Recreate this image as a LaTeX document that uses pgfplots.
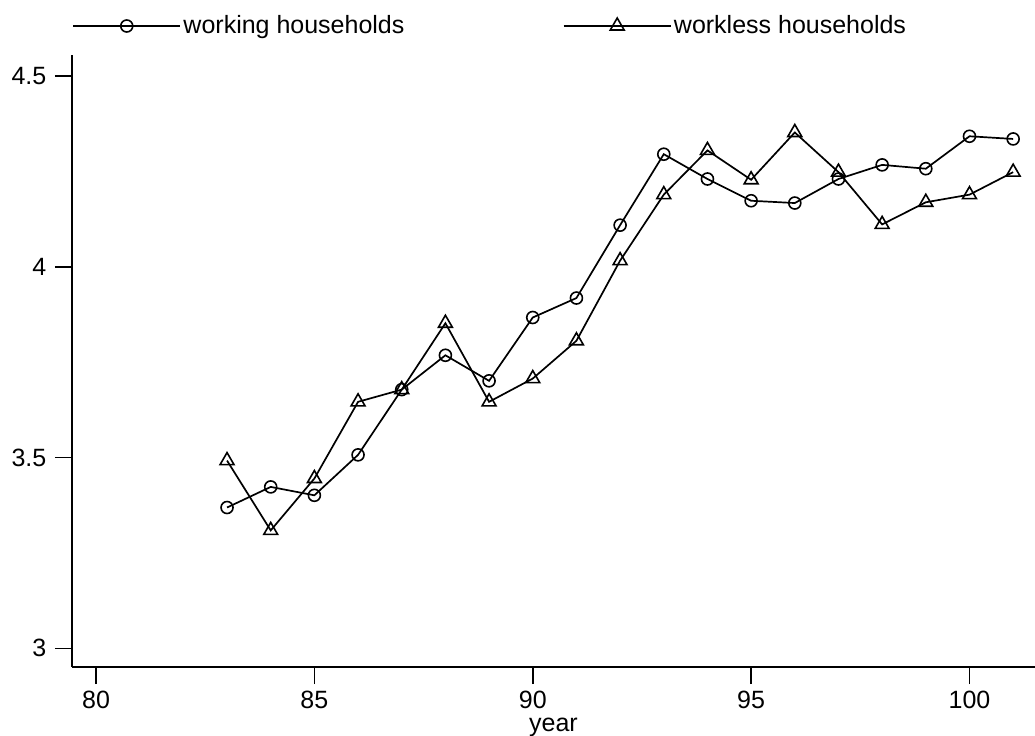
\documentclass[border=0pt]{standalone}
\usepackage{pgfplots}
\pgfplotsset{compat=1.18}
\usepackage{fontspec}
\setmainfont{Liberation Sans}

\pgfplotstableread{
year work workless
83 3.369 3.492
84 3.423 3.309
85 3.401 3.445
86 3.507 3.646
87 3.678 3.678
88 3.768 3.852
89 3.701 3.646
90 3.867 3.707
91 3.918 3.806
92 4.109 4.016
93 4.295 4.189
94 4.230 4.305
95 4.173 4.228
96 4.167 4.352
97 4.230 4.248
98 4.267 4.111
99 4.257 4.169
100 4.342 4.189
101 4.335 4.248
}\data

\begin{document}
\fontsize{12.5}{15}\selectfont
\begin{tikzpicture}
\begin{axis}[name=ax, scale only axis, width=481.5pt, height=306pt,
  xmin=79.45, xmax=101.5, ymin=2.951, ymax=4.555,
  axis lines*=left, clip=false,
  axis line style={line width=0.8pt, black},
  tick align=outside, major tick length=8.5pt,
  tick style={line width=0.8pt, black},
  xtick={80,85,90,95,100}, ytick={3,3.5,4,4.5},
  yticklabels={3,3.5,4,4.5},
  /pgf/number format/assume math mode=true,
  tick label style={font=\fontsize{12.5}{15}\selectfont},
  xticklabel style={yshift=1pt},
  xlabel={year}, xlabel style={font=\fontsize{12.5}{15}\selectfont, yshift=3.5pt},
  legend columns=2,
  legend cell align=left,
  legend style={at={(0,1)}, anchor=west, yshift=14.5pt, draw=none, fill=none, inner sep=0pt,
    font=\fontsize{12.5}{15}\selectfont,
    nodes={inner sep=1.2pt},
    /tikz/every even column/.append style={column sep=78pt}},
  legend image code/.code={\draw[#1,mark repeat=2,mark phase=2] plot coordinates {(0pt,0pt) (26.75pt,0pt) (53.5pt,0pt)};},
]
\addplot[black, line width=0.85pt, mark=o, mark size=3pt, mark options={line width=0.8pt}] table[x=year,y=work] {\data};
\addlegendentry{working households}
\addplot[black, line width=0.85pt, mark=triangle, mark size=4pt, mark options={line width=0.8pt}] table[x=year,y=workless] {\data};
\addlegendentry{workless households}
\end{axis}
\pgfresetboundingbox
\path[use as bounding box] ([xshift=-36pt,yshift=-34pt]ax.south west) rectangle ([yshift=27.5pt]ax.north east);
\end{tikzpicture}
\end{document}
